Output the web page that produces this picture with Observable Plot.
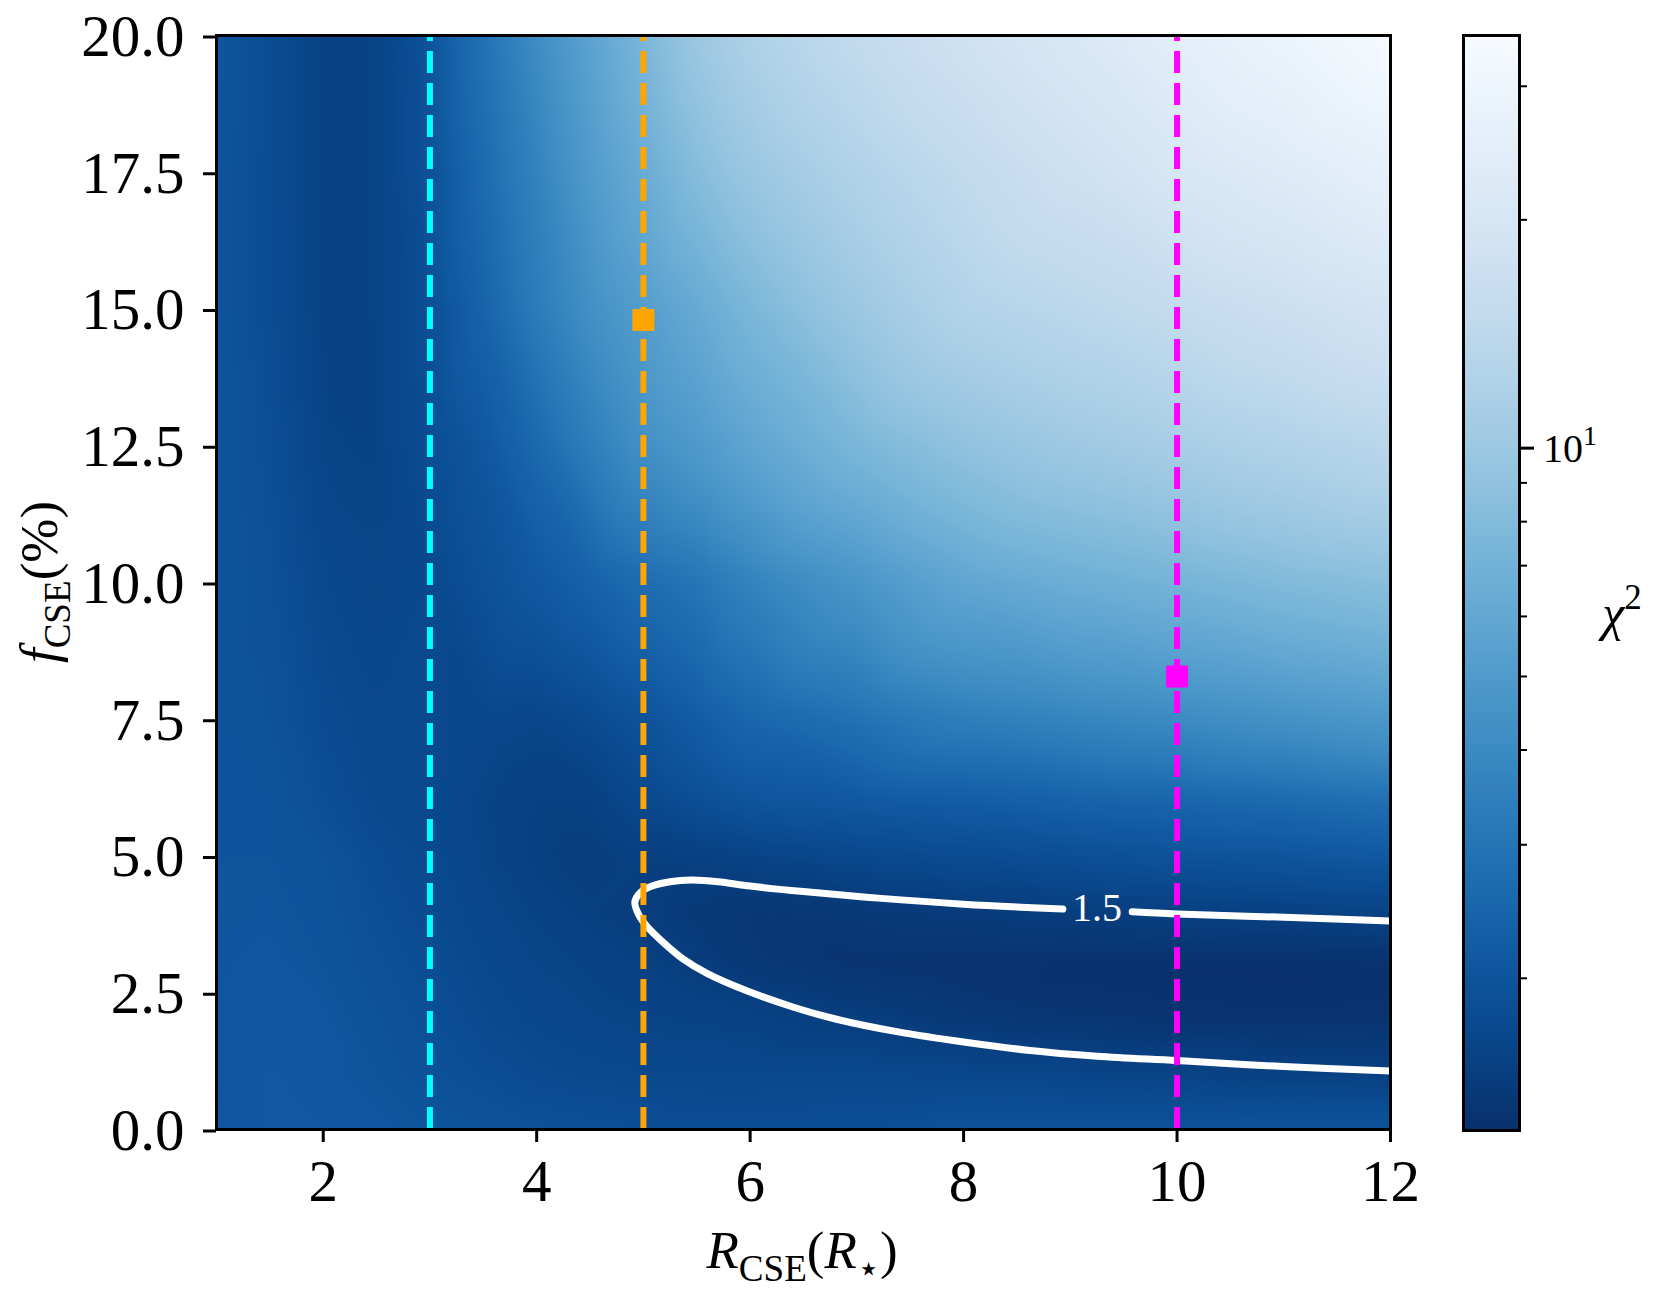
<!DOCTYPE html>
<html><head><meta charset="utf-8">
<script src="https://cdn.jsdelivr.net/npm/d3@7"></script>
<script src="https://cdn.jsdelivr.net/npm/@observablehq/plot@0.6"></script>
<style>
html,body{margin:0;padding:0;background:#fff;}
#wrap{position:relative;width:1660px;height:1294px;overflow:hidden;}
#wrap > svg{position:absolute;top:0;}
</style></head><body><div id="wrap"></div>
<script>
// ---- data ----
const xGrid = [1, 1.5, 2, 2.5, 3, 3.5, 4, 4.5, 5, 5.5, 6, 7, 8, 9, 10, 11, 12];
const yGrid = [0, 1, 2, 3, 4, 5, 6, 7.5, 10, 12.5, 15, 17.5, 20];
// chi^2 values, one row per yGrid entry (x along xGrid)
const chi2Rows = [
  [2.05, 2.1, 2.1, 2.05, 2.0, 1.95, 1.9, 1.88, 1.85, 1.83, 1.82, 1.85, 1.95, 1.95, 1.95, 2.0, 2.0],
  [2.03, 2.1, 2.05, 2.0, 1.9, 1.83, 1.76, 1.72, 1.7, 1.7, 1.7, 1.72, 1.68, 1.64, 1.6, 1.56, 1.53],
  [2.03, 2.08, 2.05, 1.95, 1.85, 1.75, 1.68, 1.65, 1.62, 1.6, 1.58, 1.49, 1.4, 1.35, 1.32, 1.31, 1.32],
  [2.02, 2.05, 2.0, 1.9, 1.8, 1.7, 1.64, 1.6, 1.55, 1.48, 1.4, 1.32, 1.3, 1.28, 1.27, 1.27, 1.28],
  [2.0, 2.02, 1.98, 1.85, 1.75, 1.66, 1.6, 1.52, 1.47, 1.42, 1.38, 1.4, 1.45, 1.5, 1.53, 1.56, 1.6],
  [2.0, 2.0, 1.95, 1.8, 1.72, 1.63, 1.53, 1.48, 1.53, 1.55, 1.6, 1.7, 1.78, 1.85, 1.95, 2.0, 2.1],
  [2.0, 2.0, 1.85, 1.73, 1.7, 1.62, 1.55, 1.55, 1.7, 1.85, 2.0, 2.1, 2.2, 2.35, 2.45, 2.6, 2.8],
  [2.0, 1.95, 1.78, 1.7, 1.7, 1.68, 1.65, 1.75, 1.95, 2.2, 2.5, 2.9, 3.4, 3.7, 4.0, 4.4, 4.8],
  [2.0, 1.9, 1.7, 1.65, 1.7, 1.9, 2.1, 2.35, 2.7, 3.0, 3.6, 4.6, 5.9, 6.6, 7.2, 7.9, 8.5],
  [2.0, 1.85, 1.62, 1.6, 1.8, 2.05, 2.6, 3.4, 4.3, 4.9, 5.8, 7.5, 9.0, 10.2, 11.2, 12.3, 13.5],
  [2.0, 1.8, 1.58, 1.6, 1.85, 2.4, 3.3, 4.3, 5.2, 6.2, 7.5, 10, 12.5, 13.8, 15.3, 17, 19],
  [2.0, 1.8, 1.57, 1.6, 1.9, 2.65, 3.6, 5.0, 6.4, 8.2, 9.8, 12.3, 14.8, 17.5, 20.5, 23, 26],
  [2.05, 1.8, 1.57, 1.6, 1.95, 2.9, 4.1, 5.6, 7.5, 10, 12, 15, 18, 21, 25, 29, 34]
];
// chi^2 = 1.5 contour (two pieces, split at the inline label)
const contourX = [9.58, 10, 11, 12,
  8.93, 8, 7.2, 6.5, 6, 5.7, 5.45, 5.25, 5.08, 4.97, 4.92, 4.95, 5.03, 5.18, 5.37, 5.6, 5.95, 6.4, 6.8, 7.4, 8.0, 8.6, 9.25, 10, 11, 12];
const contourY = [3.98, 3.94, 3.88, 3.81,
  4.03, 4.12, 4.23, 4.35, 4.45, 4.53, 4.56, 4.53, 4.45, 4.33, 4.16, 3.95, 3.72, 3.43, 3.12, 2.85, 2.55, 2.24, 2.02, 1.78, 1.60, 1.45, 1.34, 1.26, 1.15, 1.07];
const contourSeg = [0, 0, 0, 0,
  1, 1, 1, 1, 1, 1, 1, 1, 1, 1, 1, 1, 1, 1, 1, 1, 1, 1, 1, 1, 1, 1, 1, 1, 1, 1];
const contourLabel = {x: 9.25, y: 4.05, text: "1.5"};
// dashed reference radii and best-fit markers
const lineR = [3, 5, 10];
const lineColors = ["#00ffff", "#ffa500", "#ff00ff"];
const markerR = [5, 10];
const markerF = [14.8, 8.28];
const markerColors = ["#ffa500", "#ff00ff"];
// axis ticks
const xTicks = [2, 4, 6, 8, 10, 12];
const yTicks = [0, 2.5, 5, 7.5, 10, 12.5, 15, 17.5, 20];
const cbMajorTicks = [10];
const cbMinorTicks = [2, 3, 4, 5, 6, 7, 8, 9, 20, 30];
const cbDomain = [1.26, 35];

// ---- build ----
const FONT = "'Liberation Serif', 'DejaVu Serif', serif";
const field = [];
yGrid.forEach((y, j) => xGrid.forEach((x, i) => field.push({x, y, v: chi2Rows[j][i]})));
const contour = contourX.map((x, i) => ({x, y: contourY[i], seg: contourSeg[i]}));

const main = Plot.plot({
  width: 1660, height: 1294,
  marginLeft: 216, marginRight: 270, marginTop: 35, marginBottom: 165,
  style: {fontFamily: FONT, background: "transparent", color: "black", overflow: "visible"},
  x: {domain: [1, 12]},
  y: {domain: [0, 20]},
  color: {type: "log", domain: cbDomain, scheme: "blues", reverse: true},
  marks: [
    Plot.raster(field, {x: "x", y: "y", fill: "v", interpolate: "barycentric", blur: 10, x1: 1, x2: 12, y1: 0, y2: 20}),
    Plot.line(contour, {x: "x", y: "y", z: "seg", stroke: "white", strokeWidth: 7, curve: "catmull-rom"}),
    Plot.text([contourLabel], {x: "x", y: "y", text: "text", fill: "white", fontSize: 40, fontFamily: FONT}),
    ...lineR.map((r, i) => Plot.ruleX([r], {y1: 0, y2: 20, stroke: lineColors[i], strokeWidth: 6, strokeDasharray: "22,10"})),
    ...markerR.map((r, i) => Plot.dot([{x: r, y: markerF[i]}], {x: "x", y: "y", symbol: "square", r: 11, fill: markerColors[i], stroke: markerColors[i], strokeWidth: 2.5, strokeLinejoin: "round"})),
    Plot.frame({stroke: "black", strokeWidth: 3}),
    Plot.axisX({ticks: xTicks, tickSize: 13, tickPadding: 17, fontSize: 59, strokeWidth: 3, label: null, tickFormat: d => String(d)}),
    Plot.axisY({ticks: yTicks, tickSize: 13, tickPadding: 19, fontSize: 59, strokeWidth: 3, label: null, dy: 1.5, tickFormat: d => d.toFixed(1)})
  ]
});
main.style.left = "0px";
document.getElementById("wrap").appendChild(main);

const cb = Plot.plot({
  width: 197, height: 1294,
  marginLeft: 0, marginRight: 141, marginTop: 35, marginBottom: 164,
  style: {fontFamily: FONT, background: "transparent", color: "black", overflow: "visible"},
  x: {domain: [0, 1], axis: null},
  y: {type: "log", domain: cbDomain, axis: null},
  marks: [
    Plot.frame({fill: "url(#chi2-gradient)", stroke: "black", strokeWidth: 3}),
    Plot.axisY(cbMinorTicks, {anchor: "right", tickSize: 7, strokeWidth: 2, text: null, label: null}),
    Plot.axisY(cbMajorTicks, {anchor: "right", tickSize: 14, strokeWidth: 3, text: null, label: null})
  ]
});
cb.style.left = "1463px";
document.getElementById("wrap").appendChild(cb);

// gradient for the colour bar from the main plot's colour scale
const colorScale = main.scale("color");
const cbSvg = d3.select(cb);
const grad = cbSvg.insert("defs", ":first-child").append("linearGradient")
  .attr("id", "chi2-gradient").attr("x1", 0).attr("y1", 0).attr("x2", 0).attr("y2", 1);
const N = 60;
const [lo, hi] = cbDomain;
for (let k = 0; k <= N; k++) {
  const v = hi * Math.pow(lo / hi, k / N);
  grad.append("stop").attr("offset", k / N).attr("stop-color", colorScale.apply(v));
}

// rich-text labels
function richText(sel, x, y, parts, base, anchor = "middle", rotate = 0) {
  const t = sel.append("text").attr("x", x).attr("y", y)
    .attr("text-anchor", anchor).attr("font-family", FONT).attr("font-size", base).attr("fill", "black");
  if (rotate) t.attr("transform", `rotate(${rotate},${x},${y})`);
  let shift = 0;
  for (const p of parts) {
    const target = p.sub ? base * 0.24 : p.sup ? -base * 0.42 : 0;
    const ts = t.append("tspan").attr("dy", target - shift).text(p.t);
    shift = target;
    if (p.italic) ts.attr("font-style", "italic");
    if (p.sub || p.sup) ts.attr("font-size", base * 0.7);
  }
  return t;
}
const mainSvg = d3.select(main);
richText(mainSvg, 802, 1268, [
  {t: "R", italic: true}, {t: "CSE", sub: true}, {t: "("}, {t: "R", italic: true}, {t: "\u22c6", sub: true}, {t: ")"}
], 53);
richText(mainSvg, 57, 582, [
  {t: "f", italic: true}, {t: "CSE", sub: true}, {t: "(%)"}
], 53, "middle", -90);
richText(cbSvg, 159, 630, [
  {t: "\u03c7", italic: true}, {t: "2", sup: true}
], 50);
// colour-bar major tick label at the scale's position of 10
const cbY = cb.scale("y");
for (const v of cbMajorTicks) {
  richText(cbSvg, 56 + 14 + 10, cbY.apply(v) + 14, [
    {t: "10"}, {t: String(Math.round(Math.log10(v))), sup: true}
  ], 40, "start");
}
</script></body></html>
